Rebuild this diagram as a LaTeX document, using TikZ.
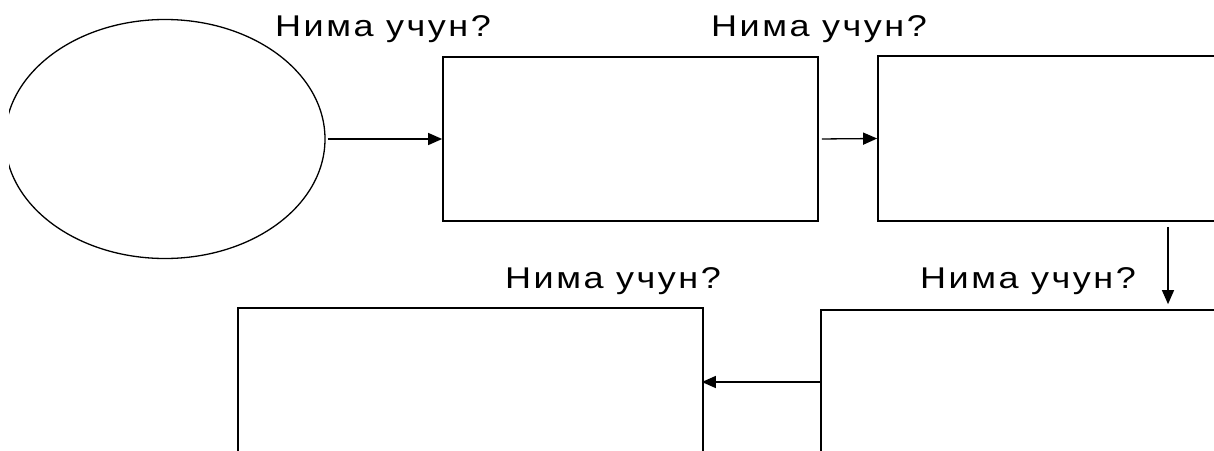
\documentclass[tikz,border=0pt]{standalone}
\usepackage{fontspec}
\setmainfont{Liberation Sans}
\newfontfamily\lblfont[LetterSpace=7]{Liberation Sans}
\usetikzlibrary{arrows.meta,shapes.geometric}
\tikzset{
  boxnode/.style={draw, line width=1.7pt, rectangle, inner sep=0pt},
  ovalnode/.style={draw, line width=1.3pt, ellipse, inner sep=0pt},
  arr/.style={line width=1.3pt, -{Triangle[length=14pt,width=12pt]}},
  lbl/.style={anchor=base, inner sep=0pt, font=\lblfont\fontsize{30}{32}\selectfont, xscale=1.2},
}
\begin{document}
\begin{tikzpicture}[x=1pt,y=-1pt]
\useasboundingbox (0,0) rectangle (1214,450);
\clip (9,0) rectangle (1214,450);
\node[ovalnode, minimum width=320pt, minimum height=239pt] (e) at (165,139) {};
\node[boxnode, minimum width=375pt, minimum height=164pt] (b1) at (630.5,139) {};
\node[boxnode, minimum width=420pt, minimum height=165pt] (b2) at (1088,138.5) {};
\node[boxnode, minimum width=500pt, minimum height=300pt] (b3) at (1071,460) {};
\node[boxnode, minimum width=465pt, minimum height=300pt] (b4) at (470.5,458) {};
\node[lbl] (t1) at (383,36) {Нима учун?};
\node[lbl] (t2) at (819,36) {Нима учун?};
\node[lbl] (t3) at (613,288) {Нима учун?};
\node[lbl] (t4) at (1028,288) {Нима учун?};
\coordinate (dx) at (1168,0);
\coordinate (ay) at (0,382);
\draw[arr, shorten <=2pt] (e.east) -- (b1.west);
\draw[arr, shorten <=3pt] (b1.east) -- (b2.west);
\draw[arr, shorten <=5pt, shorten >=5pt] (b2.south -| dx) -- (b3.north -| dx);
\draw[arr, shorten >=-2pt] (b3.west |- ay) -- (b4.east |- ay);
\end{tikzpicture}
\end{document}
